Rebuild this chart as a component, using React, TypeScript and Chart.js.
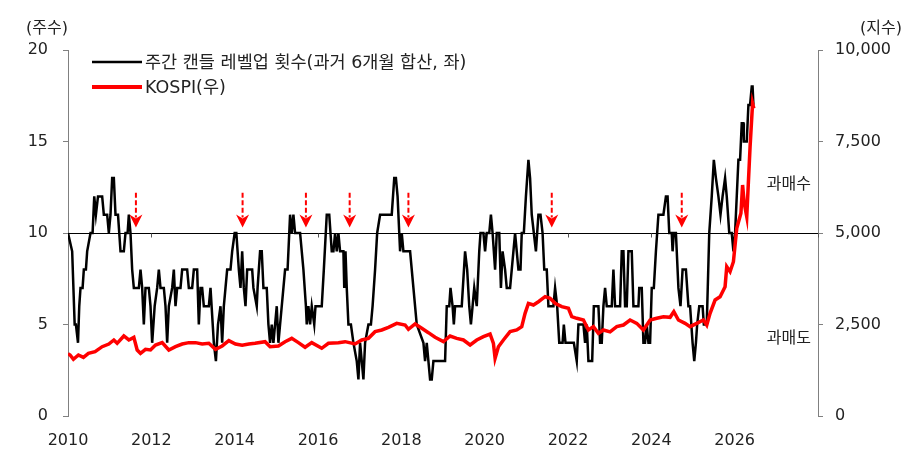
import React, { useEffect, useRef } from 'react';
import { Chart, registerables } from 'chart.js';

Chart.register(...registerables);

// ---------- data ----------
const countLabel = '주간 캔들 레벨업 횟수(과거 6개월 합산, 좌)';
const kospiLabel = 'KOSPI(우)';
const leftTitle = '(주수)';
const rightTitle = '(지수)';
const overboughtText = '과매수';
const oversoldText = '과매도';

const xTickLabels = ['2010', '2012', '2014', '2016', '2018', '2020', '2022', '2024', '2026'];

const countYears = [
  2010.00, 2010.10, 2010.16, 2010.19, 2010.24, 2010.27, 2010.30, 2010.35, 2010.38, 2010.43,
  2010.46, 2010.54, 2010.59, 2010.63, 2010.67, 2010.72, 2010.82, 2010.86, 2010.94, 2010.98,
  2011.02, 2011.06, 2011.10, 2011.14, 2011.20, 2011.26, 2011.34, 2011.38, 2011.43, 2011.46,
  2011.50, 2011.54, 2011.58, 2011.70, 2011.74, 2011.78, 2011.82, 2011.86, 2011.94, 2011.98,
  2012.02, 2012.08, 2012.14, 2012.18, 2012.22, 2012.30, 2012.34, 2012.38, 2012.42, 2012.50,
  2012.54, 2012.58, 2012.62, 2012.70, 2012.74, 2012.86, 2012.90, 2012.98, 2013.02, 2013.10,
  2013.14, 2013.18, 2013.22, 2013.26, 2013.38, 2013.42, 2013.50, 2013.55, 2013.60, 2013.66,
  2013.70, 2013.74, 2013.78, 2013.82, 2013.90, 2013.94, 2014.00, 2014.04, 2014.10, 2014.14,
  2014.18, 2014.22, 2014.26, 2014.30, 2014.42, 2014.45, 2014.53, 2014.55, 2014.61, 2014.65,
  2014.69, 2014.77, 2014.81, 2014.85, 2014.89, 2014.93, 2014.97, 2015.01, 2015.05, 2015.09,
  2015.21, 2015.27, 2015.33, 2015.37, 2015.41, 2015.45, 2015.57, 2015.65, 2015.71, 2015.73,
  2015.77, 2015.81, 2015.85, 2015.91, 2015.94, 2016.09, 2016.14, 2016.21, 2016.27, 2016.33,
  2016.37, 2016.41, 2016.45, 2016.49, 2016.53, 2016.61, 2016.63, 2016.66, 2016.69, 2016.73,
  2016.79, 2016.85, 2016.93, 2016.97, 2017.01, 2017.09, 2017.13, 2017.21, 2017.27, 2017.31,
  2017.37, 2017.42, 2017.49, 2017.77, 2017.83, 2017.87, 2017.91, 2017.97, 2018.01, 2018.05,
  2018.21, 2018.29, 2018.37, 2018.53, 2018.57, 2018.61, 2018.65, 2018.69, 2018.73, 2018.77,
  2019.05, 2019.09, 2019.15, 2019.18, 2019.23, 2019.26, 2019.29, 2019.45, 2019.53, 2019.58,
  2019.63, 2019.67, 2019.71, 2019.75, 2019.81, 2019.87, 2019.90, 2019.97, 2020.01, 2020.05,
  2020.11, 2020.15, 2020.19, 2020.25, 2020.29, 2020.35, 2020.39, 2020.43, 2020.49, 2020.53,
  2020.61, 2020.65, 2020.69, 2020.73, 2020.77, 2020.81, 2020.86, 2020.89, 2020.94, 2020.99,
  2021.02, 2021.05, 2021.09, 2021.13, 2021.18, 2021.23, 2021.26, 2021.29, 2021.34, 2021.39,
  2021.43, 2021.49, 2021.53, 2021.65, 2021.69, 2021.74, 2021.79, 2021.87, 2021.90, 2021.94,
  2022.14, 2022.21, 2022.25, 2022.37, 2022.41, 2022.45, 2022.49, 2022.58, 2022.62, 2022.73,
  2022.77, 2022.81, 2022.85, 2022.89, 2022.93, 2023.05, 2023.09, 2023.13, 2023.25, 2023.29,
  2023.33, 2023.37, 2023.41, 2023.45, 2023.53, 2023.57, 2023.69, 2023.71, 2023.77, 2023.81,
  2023.85, 2023.89, 2023.93, 2023.97, 2024.01, 2024.06, 2024.11, 2024.17, 2024.29, 2024.35,
  2024.39, 2024.43, 2024.49, 2024.51, 2024.54, 2024.59, 2024.65, 2024.70, 2024.75, 2024.83,
  2024.89, 2024.93, 2024.99, 2025.03, 2025.07, 2025.10, 2025.15, 2025.23, 2025.26, 2025.33,
  2025.39, 2025.45, 2025.50, 2025.55, 2025.61, 2025.66, 2025.71, 2025.77, 2025.81, 2025.87,
  2025.93, 2025.97, 2026.01, 2026.09, 2026.13, 2026.17, 2026.21, 2026.22, 2026.29, 2026.33,
  2026.37, 2026.41, 2026.43, 2026.45,
];

const countValues = [
  10, 9, 5, 5, 4, 6, 7, 7, 8, 8,
  9, 10, 10, 12, 11, 12, 12, 11, 11, 10,
  11, 13, 13, 11, 11, 9, 9, 10, 10, 11,
  10, 8, 7, 7, 8, 7, 5, 7, 7, 6,
  4, 6, 7, 8, 7, 7, 6, 4, 6, 7,
  8, 6, 7, 7, 8, 8, 7, 7, 8, 8,
  5, 7, 7, 6, 6, 7, 4, 3, 5, 6,
  4, 6, 7, 8, 8, 9, 10, 10, 8, 7,
  9, 7, 6, 8, 8, 7, 6, 7, 9, 9,
  7, 7, 5, 4, 5, 4, 5, 6, 4, 5,
  8, 8, 11, 10, 11, 10, 10, 8, 6, 5,
  6, 5, 6, 5, 6, 6, 8, 11, 11, 9,
  9, 10, 9, 10, 9, 9, 7, 9, 7, 5,
  5, 4, 3, 2, 4, 2, 4, 5, 5, 6,
  8, 10, 11, 11, 13, 13, 12, 9, 10, 9,
  9, 7, 5, 4, 3, 4, 3, 2, 2, 3,
  3, 6, 6, 7, 6, 5, 6, 6, 9, 8,
  6, 5, 6, 7, 6, 9, 10, 10, 9, 10,
  10, 11, 10, 8, 10, 10, 7, 9, 8, 7,
  7, 8, 9, 10, 9, 8, 8, 10, 10, 12,
  13, 14, 13, 11, 10, 9, 10, 11, 11, 10,
  8, 8, 6, 6, 7, 6, 4, 4, 5, 4,
  4, 3, 5, 5, 4, 5, 3, 3, 6, 6,
  4, 4, 6, 7, 6, 6, 8, 6, 6, 9,
  9, 6, 6, 9, 9, 6, 6, 7, 7, 4,
  4, 5, 4, 4, 7, 7, 9, 11, 11, 12,
  12, 10, 10, 9, 10, 10, 7, 6, 8, 8,
  6, 6, 4, 3, 4, 5, 6, 6, 5, 5,
  10, 12, 14, 13, 12, 11, 12, 13, 12, 10,
  10, 9, 10, 14, 14, 16, 16, 15, 15, 17,
  17, 18, 18, 17,
];

const kospiYears = [
  2010.00, 2010.05, 2010.13, 2010.25, 2010.37, 2010.49, 2010.65, 2010.82, 2010.98, 2011.10,
  2011.18, 2011.34, 2011.46, 2011.58, 2011.66, 2011.74, 2011.86, 2011.98, 2012.10, 2012.26,
  2012.42, 2012.58, 2012.74, 2012.90, 2013.06, 2013.22, 2013.38, 2013.54, 2013.70, 2013.86,
  2014.02, 2014.18, 2014.34, 2014.49, 2014.73, 2014.85, 2015.05, 2015.21, 2015.37, 2015.53,
  2015.69, 2015.85, 2016.09, 2016.25, 2016.49, 2016.65, 2016.89, 2017.05, 2017.21, 2017.37,
  2017.53, 2017.69, 2017.89, 2018.09, 2018.17, 2018.33, 2018.49, 2018.65, 2018.81, 2019.01,
  2019.17, 2019.33, 2019.49, 2019.65, 2019.81, 2019.97, 2020.13, 2020.21, 2020.25, 2020.33,
  2020.45, 2020.61, 2020.77, 2020.89, 2020.97, 2021.05, 2021.17, 2021.29, 2021.45, 2021.57,
  2021.69, 2021.85, 2022.01, 2022.09, 2022.21, 2022.37, 2022.49, 2022.61, 2022.73, 2022.85,
  2023.01, 2023.17, 2023.33, 2023.49, 2023.65, 2023.81, 2023.97, 2024.13, 2024.29, 2024.45,
  2024.54, 2024.65, 2024.81, 2024.93, 2025.09, 2025.25, 2025.33, 2025.41, 2025.53, 2025.65,
  2025.77, 2025.81, 2025.89, 2025.97, 2026.05, 2026.15, 2026.19, 2026.23, 2026.29, 2026.37,
  2026.43, 2026.46,
];

const kospiValues = [
  1700, 1667, 1549, 1667, 1603, 1712, 1758, 1894, 1967, 2077,
  1986, 2186, 2077, 2149, 1803, 1712, 1822, 1803, 1940, 2004,
  1803, 1894, 1967, 2004, 2004, 1967, 1986, 1822, 1913, 2058,
  1967, 1931, 1967, 1986, 2031, 1894, 1913, 2031, 2122, 2004,
  1877, 2004, 1850, 1986, 2004, 2031, 1967, 2077, 2122, 2304,
  2350, 2423, 2532, 2486, 2368, 2514, 2396, 2277, 2150, 2031,
  2186, 2122, 2077, 1940, 2077, 2168, 2240, 1986, 1576, 1894,
  2077, 2304, 2350, 2441, 2805, 3078, 3033, 3123, 3260, 3215,
  3078, 2987, 2942, 2713, 2669, 2623, 2350, 2441, 2259, 2350,
  2300, 2441, 2486, 2623, 2532, 2350, 2623, 2669, 2713, 2696,
  2850, 2623, 2532, 2441, 2532, 2623, 2486, 2805, 3169, 3260,
  3533, 4079, 3943, 4216, 5128, 5538, 6311, 5811, 5446, 7358,
  8544, 8407,
];

const thresholdLevel = 10;
const arrowYears = [2011.63, 2014.19, 2015.71, 2016.76, 2018.17, 2021.61, 2024.73];
const arrowTopLevel = 12.2;
const arrowTipLevel = 10.3;
const zoneLabelYear = 2026.77;
const overboughtLevel = 12.63;
const oversoldLevel = 4.2;

// ---------- style ----------
const FONT = '"DejaVu Sans", "Noto Sans CJK KR", sans-serif';
const TEXT = '#222222';
const AXIS = '#808080';
const RED = '#ff0000';

export default function App() {
  const ref = useRef<HTMLCanvasElement>(null);

  useEffect(() => {
    const canvas = ref.current;
    if (!canvas) return;

    const countData = countYears.map((x, i) => ({ x, y: countValues[i] }));
    const kospiData = kospiYears.map((x, i) => ({ x, y: kospiValues[i] }));

    const overlay = {
      id: 'overlay',
      beforeDatasetsDraw(chart: any) {
        const { ctx, chartArea, scales } = chart;
        const y = Math.round(scales.y.getPixelForValue(thresholdLevel)) + 0.5;
        ctx.save();
        ctx.strokeStyle = '#000000';
        ctx.lineWidth = 1;
        ctx.beginPath();
        ctx.moveTo(chartArea.left, y);
        ctx.lineTo(chartArea.right, y);
        ctx.stroke();
        ctx.strokeStyle = '#555555';
        scales.x.ticks.forEach((t: any) => {
          const x = Math.round(scales.x.getPixelForValue(t.value)) + 0.5;
          ctx.beginPath();
          ctx.moveTo(x, y);
          ctx.lineTo(x, y + 4);
          ctx.stroke();
        });
        ctx.restore();
      },
      afterDatasetsDraw(chart: any) {
        const { ctx, scales } = chart;
        ctx.save();
        arrowYears.forEach((yr) => {
          const x = scales.x.getPixelForValue(yr);
          const top = scales.y.getPixelForValue(arrowTopLevel);
          const tip = scales.y.getPixelForValue(arrowTipLevel);
          const headH = 13;
          const headW = 6.5;
          ctx.strokeStyle = RED;
          ctx.fillStyle = RED;
          ctx.lineWidth = 2;
          ctx.setLineDash([5, 2.5]);
          ctx.beginPath();
          ctx.moveTo(x, top);
          ctx.lineTo(x, tip - headH + 3);
          ctx.stroke();
          ctx.setLineDash([]);
          ctx.beginPath();
          ctx.moveTo(x - headW, tip - headH);
          ctx.lineTo(x, tip - headH + 4);
          ctx.lineTo(x + headW, tip - headH);
          ctx.lineTo(x, tip);
          ctx.closePath();
          ctx.fill();
        });
        ctx.restore();
      },
      afterDraw(chart: any) {
        const { ctx, chartArea, scales } = chart;
        ctx.save();
        // axis titles
        ctx.fillStyle = TEXT;
        ctx.font = `16px ${FONT}`;
        ctx.textBaseline = 'middle';
        ctx.textAlign = 'right';
        ctx.fillText(leftTitle, chartArea.left, 29);
        ctx.textAlign = 'right';
        ctx.fillText(rightTitle, chartArea.right + 84, 29);
        // zone labels
        ctx.textAlign = 'left';
        const zx = scales.x.getPixelForValue(zoneLabelYear);
        ctx.fillText(overboughtText, zx, scales.y.getPixelForValue(overboughtLevel));
        ctx.fillText(oversoldText, zx, scales.y.getPixelForValue(oversoldLevel));
        // legend
        const rows = [
          { label: countLabel, color: '#000000', w: 2.5 },
          { label: kospiLabel, color: RED, w: 4 },
        ];
        ctx.font = `17.5px ${FONT}`;
        rows.forEach((r, i) => {
          const ly = chartArea.top + 12 + i * 25;
          ctx.strokeStyle = r.color;
          ctx.lineWidth = r.w;
          ctx.beginPath();
          ctx.moveTo(chartArea.left + 24, ly);
          ctx.lineTo(chartArea.left + 74, ly);
          ctx.stroke();
          ctx.fillStyle = TEXT;
          ctx.fillText(r.label, chartArea.left + 77, ly + 1);
        });
        ctx.restore();
      },
    };

    const tickFont = { family: FONT, size: 16 };

    const chart = new Chart(canvas, {
      type: 'line',
      data: {
        datasets: [
          {
            label: kospiLabel,
            data: kospiData,
            yAxisID: 'y2',
            borderColor: RED,
            borderWidth: 3.5,
            pointRadius: 0,
            tension: 0,
            order: 0,
          },
          {
            label: countLabel,
            data: countData,
            yAxisID: 'y',
            borderColor: '#000000',
            borderWidth: 2.5,
            pointRadius: 0,
            tension: 0,
            order: 1,
          },
        ],
      },
      options: {
        responsive: false,
        animation: false,
        devicePixelRatio: 1,
        layout: { padding: { top: 50, left: 0, right: 0, bottom: 0 } },
        plugins: {
          legend: { display: false },
          tooltip: { enabled: false },
        },
        scales: {
          x: {
            type: 'linear',
            position: 'bottom',
            min: 2010,
            max: 2028,
            afterFit: (s: any) => {
              s.height = 46;
            },
            border: { display: false },
            grid: { display: false, drawTicks: false },
            ticks: {
              stepSize: 2,
              autoSkip: false,
              maxRotation: 0,
              padding: 15,
              color: TEXT,
              font: tickFont,
              callback: (v: any) => {
                const s = String(Math.round(Number(v)));
                return xTickLabels.includes(s) ? s : '';
              },
            },
          },
          y: {
            type: 'linear',
            position: 'left',
            min: 0,
            max: 20,
            afterFit: (s: any) => {
              s.width = 68;
            },
            border: { display: true, color: AXIS, width: 1 },
            grid: { drawOnChartArea: false, drawTicks: true, tickLength: 5, color: AXIS },
            ticks: { stepSize: 5, padding: 15, color: TEXT, font: tickFont },
          },
          y2: {
            type: 'linear',
            position: 'right',
            min: 0,
            max: 10000,
            afterFit: (s: any) => {
              s.width = 97;
            },
            border: { display: true, color: AXIS, width: 1 },
            grid: { drawOnChartArea: false, drawTicks: true, tickLength: 5, color: AXIS },
            ticks: {
              stepSize: 2500,
              padding: 12,
              color: TEXT,
              font: tickFont,
              callback: (v: any) => Number(v).toLocaleString('en-US'),
            },
          },
        },
      },
      plugins: [overlay],
    } as any);

    return () => chart.destroy();
  }, []);

  return (
    <div style={{ position: 'fixed', left: 0, top: 0, width: 915, height: 462, background: '#ffffff' }}>
      <canvas ref={ref} width={915} height={462} style={{ display: 'block' }} />
    </div>
  );
}
